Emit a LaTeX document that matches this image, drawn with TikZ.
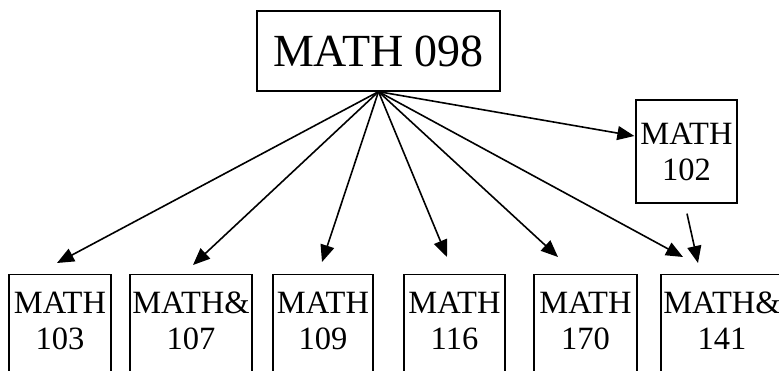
\documentclass[tikz,border=0pt]{standalone}
\usepackage{fontspec}
\setmainfont{Liberation Serif}
\usetikzlibrary{arrows.meta}

\begin{document}
\begin{tikzpicture}[x=1pt, y=-1pt,
  course/.style={draw, line width=1.3pt, align=center, inner xsep=0pt,
    font=\fontsize{32.5}{36}\selectfont},
  low/.style={course, anchor=north, inner ysep=17.5pt, text depth=25pt},
  req/.style={line width=1.6pt, -{Triangle[length=17pt,width=14pt]}}]
  \useasboundingbox (0,0) rectangle (779,370);
  \clip (0,0) rectangle (779,370);
  % top course
  \node[draw, line width=1.3pt, minimum width=243pt, minimum height=80pt,
    inner sep=0pt, font=\fontsize{46}{54}\selectfont] (m098) at (378.5,51) {MATH 098};
  % side course
  \node[course, minimum width=101pt, minimum height=103pt] (m102) at (686.5,151.5) {MATH\\102};
  % bottom row
  \node[low, minimum width=102pt] (m103) at (60,274)    {MATH\\103};
  \node[low, minimum width=122pt] (m107) at (191,274)   {MATH\&\\107};
  \node[low, minimum width=100pt] (m109) at (323,274)   {MATH\\109};
  \node[low, minimum width=101pt] (m116) at (454.5,274) {MATH\\116};
  \node[low, minimum width=103pt] (m170) at (585.5,274) {MATH\\170};
  \node[low, minimum width=122pt] (m141) at (722,274)   {MATH\&\\141};
  % prerequisites
  \draw[req] (m098.south) -- ([shift={(-3,-11)}]m103.north);
  \draw[req] (m098.south) -- ([shift={(2,-9)}]m107.north);
  \draw[req] (m098.south) -- ([shift={(-1,-12)}]m109.north);
  \draw[req] (m098.south) -- ([shift={(-7.5,-17)}]m116.north);
  \draw[req] (m098.south) -- ([shift={(-27.5,-17)}]m170.north);
  \draw[req] (m098.south) -- ([shift={(-39,-17)}]m141.north);
  \draw[req] (m098.south) -- ([shift={(-1,-15.5)}]m102.west);
  \draw[req] ([shift={(0.5,10)}]m102.south) -- ([shift={(-24,-11)}]m141.north);
\end{tikzpicture}
\end{document}
